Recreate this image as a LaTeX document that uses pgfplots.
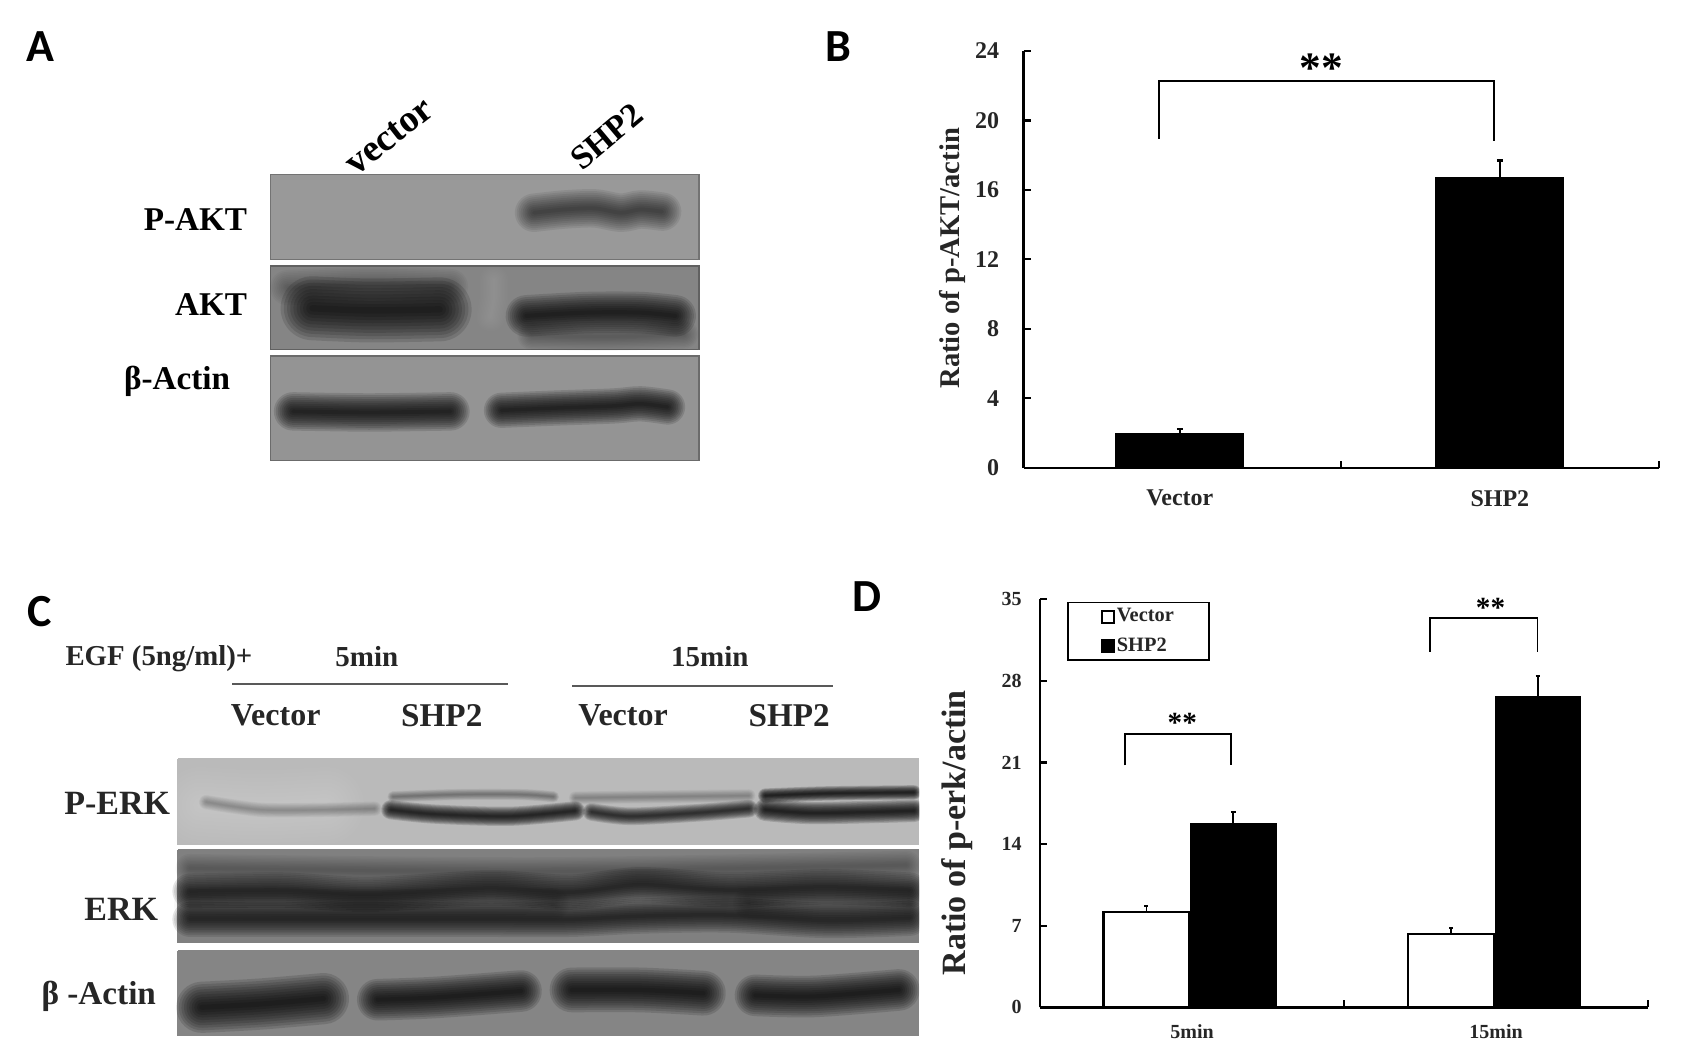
\documentclass[border=0pt]{standalone}
\usepackage{fontspec}
\setmainfont{Liberation Serif}
\newfontfamily\panelfont{Carlito}
\usepackage{pgfplots}
\pgfplotsset{compat=1.18}
\newcommand{\sz}[1]{\fontsize{#1}{#1}\selectfont\bfseries}
% stacked translucent strokes = blurred blot band
\newcommand{\bandline}[5]{\addplot[smooth,#3,opacity=#1,line cap=round,line width=#5*#2] coordinates {#4};}
\newcommand{\band}[4]{%
  \bandline{#1}{#2}{#3}{#4}{1.6}\bandline{#1}{#2}{#3}{#4}{1.44}\bandline{#1}{#2}{#3}{#4}{1.28}%
  \bandline{#1}{#2}{#3}{#4}{1.12}\bandline{#1}{#2}{#3}{#4}{0.96}\bandline{#1}{#2}{#3}{#4}{0.8}%
  \bandline{#1}{#2}{#3}{#4}{0.64}\bandline{#1}{#2}{#3}{#4}{0.48}\bandline{#1}{#2}{#3}{#4}{0.32}%
  \bandline{#1}{#2}{#3}{#4}{0.16}%
}
\newcommand{\panel}[6]{%
  \addplot[fill=#5,draw=#6,line width=0.7pt] coordinates {(#1,#2)(#3,#2)(#3,#4)(#1,#4)(#1,#2)};
}
\begin{document}
\begin{tikzpicture}[every node/.append style={inner sep=0pt}]
\useasboundingbox (0,0) rectangle (851pt,524pt);
% ---------- canvas for blots and text, in picture pixels ----------
\begin{axis}[at={(0,0)},anchor=south west,width=851pt,height=524pt,scale only axis,
  xmin=0,xmax=1568,ymin=0,ymax=965.5,y dir=reverse,hide axis,clip=false]
% Panel A blots
\panel{249}{161}{644}{239}{black!40}{black!55}
\band{0.075}{12pt}{black}{(492,196)(520,193)(548,192)(572,196)(590,193)(610,195)}
\panel{249}{245}{644}{322}{black!48}{black!62}
\band{0.03}{11pt}{black}{(265,265)(340,262)(415,264)}
\band{0.03}{9pt}{black}{(490,309)(560,310)(630,308)}
\band{0.012}{9pt}{white}{(455,258)(455,275)(452,292)}
\band{0.125}{20pt}{black}{(288,284)(340,286)(405,285)}
\band{0.12}{13pt}{black}{(485,291)(540,288)(590,288)(622,291)}
\panel{249}{328}{644}{424}{black!42}{black!58}
\band{0.125}{12pt}{black}{(270,379)(340,380)(415,379)}
\band{0.125}{11pt}{black}{(462,378)(510,376)(565,374)(590,372)(615,375)}
% Panel C blots
\panel{164}{699}{846}{778}{black!27}{black!27}
\band{0.02}{24pt}{white}{(185,742)(240,745)(300,742)}
\band{0.03}{4.5pt}{black}{(190,739)(240,746)(300,746)(345,745)}
\band{0.045}{3.5pt}{black}{(362,734)(420,732)(480,732)(510,734)}
\band{0.14}{6pt}{black}{(360,746)(400,750)(470,752)(530,747)}
\band{0.03}{4pt}{black}{(530,735)(610,734)(690,733)}
\band{0.12}{5.5pt}{black}{(545,748)(580,752)(640,749)(690,745)}
\band{0.15}{4.5pt}{black}{(705,733)(760,731)(842,730)}
\band{0.15}{7pt}{black}{(705,746)(750,749)(842,747)}
\panel{164}{783}{846}{868}{black!50}{black!50}
\band{0.03}{9pt}{black}{(175,800)(500,803)(835,797)}
\band{0.1}{11pt}{black}{(175,821)(260,820)(340,824)(450,818)(525,822)(590,815)(670,820)(760,817)(838,820)}
\band{0.1}{11pt}{black}{(175,847)(260,847)(340,847)(450,847)(525,847)(590,844)(670,843)(760,848)(838,846)}
\band{0.025}{10pt}{black}{(175,833)(340,834)(510,833)}
\band{0.025}{10pt}{black}{(690,832)(838,832)}
\panel{164}{876}{846}{954}{black!48}{black!48}
\band{0.13}{16pt}{black}{(186,928)(240,925)(298,920)}
\band{0.13}{13pt}{black}{(348,921)(400,919)(480,913)}
\band{0.13}{14pt}{black}{(527,912)(590,912)(648,915)}
\band{0.13}{13pt}{black}{(696,917)(750,918)(828,912)}
\addplot[fill=white,draw=none] coordinates {(847,690)(885,690)(885,965)(847,965)(847,690)};
% Lines over lanes
\addplot[black!65,line width=1.3pt] coordinates {(214,630)(468,630)};
\addplot[black!65,line width=1.3pt] coordinates {(527,632)(767,632)};
% Panel letters
\node[font=\panelfont\fontsize{23}{23}\selectfont\bfseries] at (37,43) {A};
\node[font=\panelfont\fontsize{23}{23}\selectfont\bfseries] at (772,43) {B};
\node[font=\panelfont\fontsize{23}{23}\selectfont\bfseries] at (37,563) {C};
\node[font=\panelfont\fontsize{23}{23}\selectfont\bfseries] at (799,550) {D};
% Panel A text
\node[font=\sz{19},rotate=38] at (359,126) {vector};
\node[font=\sz{17},rotate=40] at (559,126) {SHP2};
\node[font=\sz{16.6},anchor=east] at (228,202) {P-AKT};
\node[font=\sz{16.6},anchor=east] at (228,281) {AKT};
\node[font=\sz{16.6},anchor=west] at (114,351) {β-Actin};
% Panel C text
\node[font=\sz{14.4},anchor=west,text=black!85] at (60,607) {EGF (5ng/ml)+};
\node[font=\sz{14.5},text=black!85] at (338,605) {5min};
\node[font=\sz{14.5},text=black!85] at (654,605) {15min};
\node[font=\sz{16},text=black!85] at (254,659) {Vector};
\node[font=\sz{16.6},text=black!85] at (407,659) {SHP2};
\node[font=\sz{16},text=black!85] at (574,659) {Vector};
\node[font=\sz{16.6},text=black!85] at (727,659) {SHP2};
\node[font=\sz{17},anchor=east,text=black!85] at (157,740) {P-ERK};
\node[font=\sz{17},anchor=east,text=black!85] at (146,838) {ERK};
\node[font=\sz{16.6},anchor=west,text=black!85] at (38,918) {β -Actin};
\end{axis}
% ---------- Panel B ----------
\begin{axis}[at={(511.8pt,290.1pt)},anchor=south west,width=317.5pt,height=208.4pt,scale only axis,
  xmin=0,xmax=2,ymin=0,ymax=24,clip=false,
  axis lines=left,axis line style={-,line width=1.2pt},
  tick style={black,line width=1.1pt},major tick length=3.5pt,tick align=inside,
  xtick={0,1,2},xticklabels={},
  extra x ticks={0.492,1.5},extra x tick labels={Vector,SHP2},
  extra x tick style={major tick length=0pt,tick label style={yshift=-11pt}},
  ytick={0,4,8,12,16,20,24},
  /pgf/number format/assume math mode=true,
  tick label style={font=\sz{12},text=black!85},
  y tick label style={xshift=-12pt},
  ylabel={Ratio of p-AKT/actin},
  every axis y label/.style={at={(rel axis cs:-0.1115,0.5026)},rotate=90,anchor=center,font=\sz{14.3},text=black!85},
]
\addplot[ybar,bar width=64pt,bar shift=0pt,fill=black,draw=black,
  error bars/y dir=plus,error bars/y explicit,
  error bars/error bar style={line width=1.2pt},error bars/error mark options={rotate=90,mark size=1.5pt,line width=1.2pt}]
  coordinates {(0.492,2.0)+-(0,0.25)(1.5,16.7)+-(0,1.0)};
\addplot[black,line width=0.9pt] coordinates {(0.4274,18.94)(0.4274,22.25)(1.4803,22.25)(1.4803,18.8)};
\node[font=\sz{21.7}] at (0.9368,23.0) {**};
\end{axis}
% ---------- Panel D ----------
\begin{axis}[at={(520pt,20.3pt)},anchor=south west,width=304pt,height=204pt,scale only axis,
  xmin=0,xmax=2,ymin=0,ymax=35,clip=false,
  axis lines=left,axis line style={-,line width=1.2pt},
  tick style={black,line width=1.1pt},major tick length=3.5pt,tick align=inside,
  xtick={0,1,2},xticklabels={},
  extra x ticks={0.5,1.5},extra x tick labels={5min,15min},
  extra x tick style={major tick length=0pt,tick label style={yshift=-8.5pt}},
  ytick={0,7,14,21,28,35},
  /pgf/number format/assume math mode=true,
  tick label style={font=\sz{10},text=black!85},
  y tick label style={xshift=-9pt},
  ylabel={Ratio of p-erk/actin},
  every axis y label/.style={at={(rel axis cs:-0.136,0.428)},rotate=90,anchor=center,font=\sz{17},text=black!85},
  legend style={at={(rel axis cs:0.0446,0.9947)},anchor=north west,draw=black,line width=0.9pt,
    inner xsep=16.5pt,inner ysep=2pt,font=\sz{10.2},row sep=4.5pt,text=black!85,
    nodes={inner xsep=1pt,inner ysep=1pt}},
  legend cell align=left,
  legend image code/.code={\draw[#1,line width=0.9pt] (0pt,-3pt) rectangle (6pt,3pt);},
]
\addplot[ybar,bar width=42.9pt,bar shift=0pt,fill=white,draw=black,line width=1.1pt,
  error bars/y dir=plus,error bars/y explicit,
  error bars/error bar style={line width=0.9pt},error bars/error mark options={rotate=90,mark size=1pt,line width=0.9pt}]
  coordinates {(0.350,8.15)+-(0,0.55)(1.352,6.3)+-(0,0.5)};
\addplot[ybar,bar width=42.9pt,bar shift=0pt,fill=black,draw=black,
  error bars/y dir=plus,error bars/y explicit,
  error bars/error bar style={line width=1.1pt},error bars/error mark options={rotate=90,mark size=1.2pt,line width=1.1pt}]
  coordinates {(0.636,15.8)+-(0,0.95)(1.638,26.7)+-(0,1.7)};
\legend{Vector,SHP2}
\addplot[forget plot,black,line width=0.8pt] coordinates {(0.279,20.76)(0.279,23.46)(0.629,23.46)(0.629,20.76)};
\addplot[forget plot,black,line width=0.8pt] coordinates {(1.282,30.5)(1.282,33.4)(1.636,33.4)(1.636,30.5)};
\node[font=\sz{14.6}] at (0.468,24.4) {**};
\node[font=\sz{14.6}] at (1.482,34.3) {**};
\end{axis}
\end{tikzpicture}
\end{document}
